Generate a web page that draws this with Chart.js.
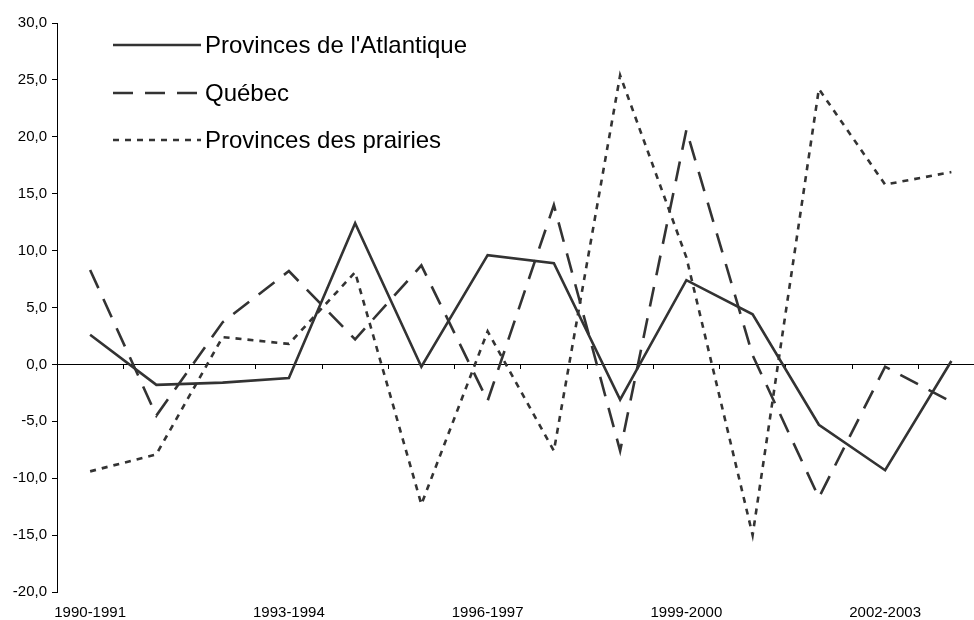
<!DOCTYPE html>
<html>
<head>
<meta charset="utf-8">
<script src="https://cdn.jsdelivr.net/npm/chart.js@4.4.1/dist/chart.umd.min.js"></script>
<style>
    html, body { margin: 0; padding: 0; background: #fff; overflow: hidden; }
    #wrap { position: relative; width: 990px; height: 620px; }
    #legend { position: absolute; left: 113px; top: 0; font-family: "Liberation Sans", Arial, sans-serif; font-size: 24px; color: #000; }
    .item { position: absolute; left: 0; height: 30px; display: flex; align-items: center; white-space: nowrap; }
    .item svg { display: block; margin-right: 4px; }
</style>
</head>
<body>
<div id="wrap">
    <canvas id="chart"></canvas>
    <div id="legend"></div>
</div>
<script>
const years = ['1990-1991', '1991-1992', '1992-1993', '1993-1994', '1994-1995', '1995-1996', '1996-1997',
    '1997-1998', '1998-1999', '1999-2000', '2000-2001', '2001-2002', '2002-2003', '2003-2004'];
const seriesNames = ["Provinces de l'Atlantique", 'Québec', 'Provinces des prairies'];
const atlantique = [2.6, -1.8, -1.6, -1.2, 12.4, -0.2, 9.6, 8.9, -3.1, 7.4, 4.4, -5.3, -9.3, 0.3];
const quebec = [8.3, -4.5, 3.7, 8.2, 2.2, 8.7, -3.2, 14.0, -7.6, 20.6, 0.8, -11.7, -0.2, -3.3];
const prairies = [-9.4, -7.9, 2.4, 1.8, 8.1, -12.3, 2.9, -7.6, 25.4, 9.4, -15.0, 24.2, 15.8, 16.9];
const yTicks = [-20, -15, -10, -5, 0, 5, 10, 15, 20, 25, 30];

const lineColor = '#333333';
const dashes = [[], [20, 12], [6, 6]];

function makeSet(name, values, i) {
    return {
        label: name,
        data: values,
        borderColor: lineColor,
        borderWidth: 2.6,
        borderDash: dashes[i],
        borderJoinStyle: 'miter',
        borderCapStyle: 'butt',
        pointRadius: 0,
        tension: 0,
        fill: false
    };
}

const fmt = v => v.toFixed(1).replace('.', ',');

const chart = new Chart(document.getElementById('chart'), {
    type: 'line',
    data: {
        labels: years,
        datasets: [
            makeSet(seriesNames[0], atlantique, 0),
            makeSet(seriesNames[1], quebec, 1),
            makeSet(seriesNames[2], prairies, 2)
        ]
    },
    options: {
        responsive: true,
        maintainAspectRatio: false,
        animation: false,
        layout: { padding: { top: 23, right: 5.5, left: 0, bottom: 0 } },
        plugins: { legend: { display: false }, tooltip: { enabled: false } },
        scales: {
            x: {
                type: 'category',
                position: 'bottom',
                offset: true,
                border: { display: false },
                grid: { display: false, drawTicks: false },
                ticks: {
                    autoSkip: false,
                    maxRotation: 0,
                    padding: 12,
                    color: '#000',
                    font: { family: 'Liberation Sans', size: 15 },
                    callback: function (v, i) { return i % 3 === 0 ? this.getLabelForValue(v) : ''; }
                },
                afterFit: s => { s.height = 28; }
            },
            x0: {
                type: 'category',
                axis: 'x',
                position: { y: 0 },
                offset: true,
                border: { display: true, color: '#000', width: 1 },
                grid: { offset: true, drawOnChartArea: false, drawTicks: true, tickLength: 4, color: '#000' },
                ticks: { display: false }
            },
            y: {
                min: -20,
                max: 30,
                border: { display: true, color: '#000', width: 1 },
                grid: { drawOnChartArea: false, drawTicks: true, tickLength: 5, color: '#000' },
                afterBuildTicks: s => { s.ticks = yTicks.map(v => ({ value: v })); },
                ticks: {
                    padding: 5,
                    color: '#000',
                    font: { family: 'Liberation Sans', size: 15 },
                    callback: v => fmt(v)
                },
                afterFit: s => { s.width = 57; }
            }
        }
    }
});

// legend drawn as html on top of the plot
const legend = document.getElementById('legend');
const rowY = [45, 92.7, 140];
chart.data.datasets.forEach((ds, i) => {
    const row = document.createElement('div');
    row.className = 'item';
    row.style.top = (rowY[i] - 15) + 'px';
    const dash = ds.borderDash.length ? ' stroke-dasharray="' + ds.borderDash.join(' ') + '"' : '';
    row.innerHTML = '<svg width="88" height="6"><line x1="0" y1="3" x2="88" y2="3" stroke="' + ds.borderColor +
        '" stroke-width="' + ds.borderWidth + '"' + dash + '/></svg><span>' + ds.label + '</span>';
    legend.appendChild(row);
});
</script>
</body>
</html>
